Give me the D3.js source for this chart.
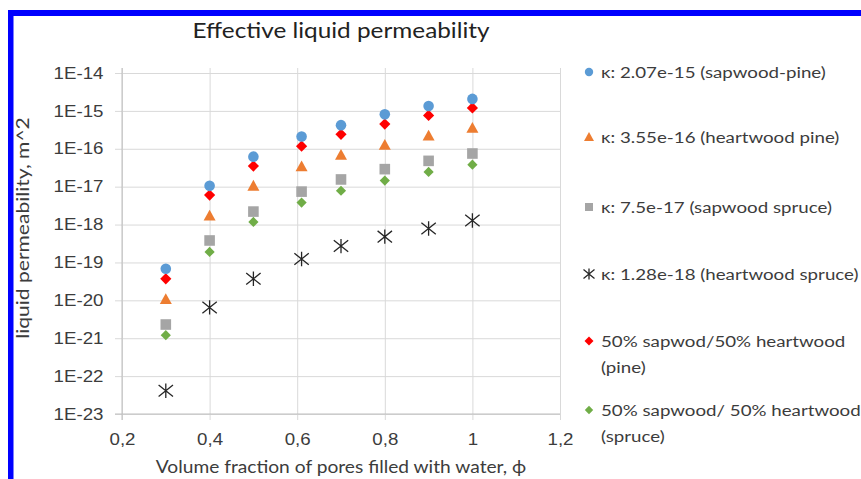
<!DOCTYPE html>
<html>
<head>
<meta charset="utf-8">
<script src="https://cdn.jsdelivr.net/npm/d3@7"></script>
<style>
  html, body { margin: 0; padding: 0; background: #fff; }
  svg { display: block; font-family: Lato, "Open Sans", sans-serif; }
</style>
</head>
<body>
<svg id="chart" width="861" height="479"></svg>
<script>
// Water fraction in pores (phi) and liquid permeability (m^2) per wood type
const phi = [0.3, 0.4, 0.5, 0.61, 0.7, 0.8, 0.9, 1.0];
const sapwoodPine     = [6.8e-20, 1.05e-17, 6.2e-17, 2.1e-16, 4.2e-16, 8.1e-16, 1.35e-15, 2.07e-15];
const heartwoodPine   = [1.07e-20, 1.7e-18, 1.05e-17, 3.4e-17, 6.9e-17, 1.26e-16, 2.2e-16, 3.55e-16];
const sapwoodSpruce   = [2.3e-21, 3.8e-19, 2.2e-18, 7.4e-18, 1.55e-17, 2.9e-17, 4.8e-17, 7.5e-17];
const heartwoodSpruce = [4.1e-23, 6.5e-21, 3.7e-20, 1.23e-19, 2.7e-19, 4.8e-19, 7.9e-19, 1.28e-18];
const mixPine         = [3.7e-20, 6.0e-18, 3.5e-17, 1.17e-16, 2.4e-16, 4.5e-16, 7.6e-16, 1.2e-15];
const mixSpruce       = [1.2e-21, 1.9e-19, 1.17e-18, 3.8e-18, 7.8e-18, 1.45e-17, 2.45e-17, 3.8e-17];

const seriesNames = [
  ["κ: 2.07e-15 (sapwood-pine)"],
  ["κ: 3.55e-16 (heartwood pine)"],
  ["κ: 7.5e-17 (sapwood spruce)"],
  ["κ: 1.28e-18 (heartwood spruce)"],
  ["50% sapwod/50% heartwood", "(pine)"],
  ["50% sapwood/ 50% heartwood", "(spruce)"]
];

const xTicks = [0.2, 0.4, 0.6, 0.8, 1.0, 1.2];
const xTickLabels = ["0,2", "0,4", "0,6", "0,8", "1", "1,2"];
const yTicks = [1e-14, 1e-15, 1e-16, 1e-17, 1e-18, 1e-19, 1e-20, 1e-21, 1e-22, 1e-23];
const yTickLabels = ["1E-14", "1E-15", "1E-16", "1E-17", "1E-18", "1E-19", "1E-20", "1E-21", "1E-22", "1E-23"];

const chartTitle = "Effective liquid permeability";
const xTitle = "Volume fraction of pores filled with water, ϕ";
const yTitle = "liquid permeability, m^2";

// Series styling: marker shape, fill colour, marker size in the plot and legend
const styles = [
  { values: sapwoodPine,     shape: "circle",   color: "#5b9bd5", size: 5.3, lsize: 4.2 },
  { values: heartwoodPine,   shape: "triangle", color: "#ed7d31", size: 6,   lsize: 5 },
  { values: sapwoodSpruce,   shape: "square",   color: "#a5a5a5", size: 5.3, lsize: 4 },
  { values: heartwoodSpruce, shape: "star",     color: "#262626", size: 7.2, lsize: 5.5 },
  { values: mixPine,         shape: "diamond",  color: "#ff0000", size: 5.6, lsize: 4.5 },
  { values: mixSpruce,       shape: "diamond",  color: "#70ad47", size: 5.1, lsize: 4.2 }
];

// Text is set slightly wide (horizontal stretch around its anchor)
const SX = 1.17;
function widen(sel) {
  sel.each(function () {
    const t = d3.select(this);
    const x = +t.attr("x") || 0;
    const y = +t.attr("y") || 0;
    t.attr("transform", `translate(${x},${y}) scale(${SX},1) translate(${-x},${-y})`);
  });
}

const svg = d3.select("#chart");

// Frame lines along the top and left edges
svg.append("rect").attr("x", 8).attr("y", 10).attr("width", 853).attr("height", 6).attr("fill", "#0000ff");
svg.append("rect").attr("x", 8).attr("y", 10).attr("width", 5.5).attr("height", 469).attr("fill", "#0000ff");

const plot = { left: 122, right: 560, top: 73, bottom: 414 };

const x = d3.scaleLinear().domain([0.2, 1.2]).range([plot.left, plot.right]);
const y = d3.scaleLog().domain([1e-23, 1e-14]).range([plot.bottom, plot.top]);

const gridColor = "#d9d9d9";
const textColor = "#3c3c3c";

// Horizontal gridlines with small outer ticks (log axis)
const yAxis = d3.axisLeft(y)
  .tickValues(yTicks)
  .tickFormat((d, i) => yTickLabels[i])
  .tickSizeInner(-(plot.right - plot.left))
  .tickSizeOuter(0)
  .tickPadding(18.5);
const gy = svg.append("g").attr("transform", `translate(${plot.left},0)`).call(yAxis);
gy.select(".domain").remove();
gy.selectAll(".tick line").attr("stroke", gridColor).attr("x1", -7);
gy.selectAll(".tick text").attr("fill", textColor).style("font-size", "16px").call(widen);

// Vertical gridlines with ticks below the axis
const xAxis = d3.axisBottom(x)
  .tickValues(xTicks)
  .tickFormat((d, i) => xTickLabels[i])
  .tickSizeInner(6)
  .tickSizeOuter(0)
  .tickPadding(14);
const gx = svg.append("g").attr("transform", `translate(0,${plot.bottom})`).call(xAxis);
gx.select(".domain").remove();
gx.selectAll(".tick line").attr("stroke", gridColor).attr("y1", -(plot.bottom - plot.top + 5)).attr("y2", 6);
gx.selectAll(".tick text").attr("fill", textColor).style("font-size", "16px").call(widen);

// Axis lines
svg.append("line").attr("x1", plot.left).attr("x2", plot.left).attr("y1", plot.top - 5).attr("y2", plot.bottom + 6)
  .attr("stroke", "#bfbfbf");
svg.append("line").attr("x1", plot.left - 7).attr("x2", plot.right).attr("y1", plot.bottom).attr("y2", plot.bottom)
  .attr("stroke", "#bfbfbf");

// Marker path builder
function markerPath(shape, s) {
  switch (shape) {
    case "circle":
      return d3.symbol(d3.symbolCircle, Math.PI * s * s)();
    case "square":
      return `M${-s},${-s}H${s}V${s}H${-s}Z`;
    case "diamond":
      return `M0,${-s}L${s},0L0,${s}L${-s},0Z`;
    case "triangle":
      return `M0,${-s}L${s},${s * 0.8}L${-s},${s * 0.8}Z`;
    case "star":
      return `M${-s},${-s * 0.8}L${s},${s * 0.8}M${-s},${s * 0.8}L${s},${-s * 0.8}M0,${-s}V${s}`;
  }
}

function drawMarker(g, st, s) {
  const p = g.append("path").attr("d", markerPath(st.shape, s));
  if (st.shape === "star") {
    p.attr("fill", "none").attr("stroke", st.color).attr("stroke-width", 1.3);
  } else {
    p.attr("fill", st.color);
  }
  return p;
}

// Draw series in back-to-front order
const drawOrder = [3, 5, 2, 1, 4, 0];
drawOrder.forEach(si => {
  const st = styles[si];
  const g = svg.append("g");
  g.selectAll("g.pt")
    .data(phi.map((p, i) => ({ p, v: st.values[i] })))
    .join("g")
    .attr("class", "pt")
    .attr("transform", d => `translate(${x(d.p)},${y(d.v)})`)
    .each(function () { drawMarker(d3.select(this), st, st.size); });
});

// Chart title
svg.append("text")
  .attr("x", 341).attr("y", 38)
  .attr("text-anchor", "middle")
  .attr("fill", "#222")
  .style("font-size", "20.8px")
  .text(chartTitle)
  .call(widen);

// Axis titles
svg.append("text")
  .attr("x", 341).attr("y", 473)
  .attr("text-anchor", "middle")
  .attr("fill", textColor)
  .style("font-size", "16.4px")
  .text(xTitle)
  .call(widen);

svg.append("text")
  .attr("transform", `translate(29,228) rotate(-90) scale(${SX},1)`)
  .attr("text-anchor", "middle")
  .attr("fill", textColor)
  .style("font-size", "18px")
  .text(yTitle);

// Legend
const legendRows = [72, 137, 207, 274, 341, 410];
const legend = svg.append("g");
styles.forEach((st, i) => {
  const row = legend.append("g").attr("transform", `translate(0,${legendRows[i]})`);
  const m = row.append("g").attr("transform", "translate(589,0)");
  drawMarker(m, st, st.lsize);
  const t = row.append("text")
    .attr("x", 601).attr("y", 0)
    .attr("fill", textColor)
    .style("font-size", "16px");
  seriesNames[i].forEach((line, j) => {
    t.append("tspan").attr("x", 601).attr("dy", j === 0 ? "0.35em" : "26px").text(line);
  });
  t.call(widen);
});
</script>
</body>
</html>
